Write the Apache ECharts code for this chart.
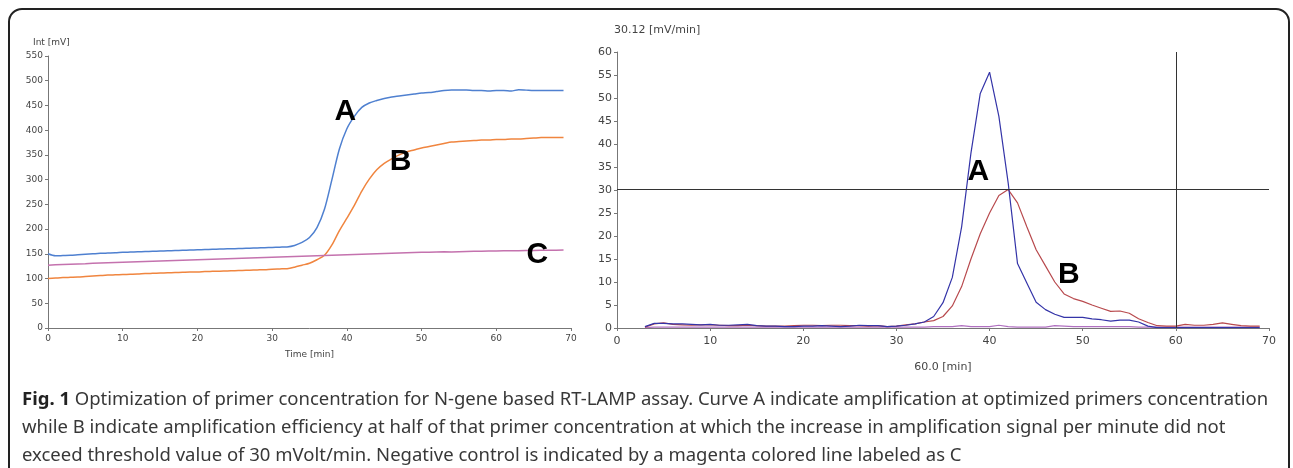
<!DOCTYPE html>
<html>
<head>
<meta charset="utf-8">
<script src="https://cdn.jsdelivr.net/npm/echarts@6/dist/echarts.min.js"></script>
<style>
  html, body { margin: 0; padding: 0; background: #fff; }
  .frame { position: absolute; left: 8px; top: 8px; width: 1282px; height: 490px;
           border: 2px solid #222; border-radius: 14px; box-sizing: border-box; }
  #chart { position: absolute; left: 0; top: 0; width: 1293px; height: 468px; }
  .caption { position: absolute; left: 22px; top: 384px; width: 1262px;
             font-family: "Noto Sans", sans-serif; font-size: 18.5px;
             line-height: 28px; color: #383838; }
  .caption b { color: #222; }
</style>
</head>
<body>
<div class="frame"></div>
<div id="chart"></div>
<div class="caption"><b>Fig. 1</b> Optimization of primer concentration for N-gene based RT-LAMP assay. Curve A indicate amplification at optimized primers concentration<br>while B indicate amplification efficiency at half of that primer concentration at which the increase in amplification signal per minute did not<br>exceed threshold value of 30 mVolt/min. Negative control is indicated by a magenta colored line labeled as C</div>
<script>
// left panel: intensity (mV) per minute 0..69
const minutesLeft = [];
for (let i = 0; i <= 69; i++) minutesLeft.push(i);
const intA = [150,146,146.5,147,148,149,150,151,151.5,152,153,153.5,154,154.5,155,155.5,156,156.5,157,157.5,
  158,158.5,159,159.5,160,160.5,161,161.5,162,162.5,163,163.5,164,167,173,183,203,240,300,362,
  403,428,446,455,460,464,467,469,471,473,475,476,478,480,481,481,481,480,480,479,
  480,480,479,482,481,480,480,480,480,480];
const intB = [100,101,102,102.5,103,104,105,106,107,107.5,108,108.5,109,110,110.5,111,111.5,112,112.5,113,
  113,114,114.5,115,115.5,116,116.5,117,117.5,118,119,119.5,120,123,127,131,138,147,168,197,
  222,248,277,301,320,333,342,350,356,360,364,367,370,373,376,377,378,379,380,380,
  381,381,382,382,383,384,385,385,385,385];
const intC = [127,128,128.5,129,129.5,130,131,131.5,132,132.5,133,133.5,134,134.5,135,135.5,136,136.5,137,137.5,
  138,138.5,139,139.5,140,140.5,141,141.5,142,142.5,143,143.5,144,144.5,145,145.5,146,146.5,147,147.5,
  148,148.5,149,149.5,150,150.5,151,151.5,152,152.5,153,153,153.5,154,153.5,154,154.5,155,155,155.5,
  155.5,156,156,156,156.5,156.5,157,157,157,157.5];

// right panel: derivative (mV/min) per minute 3..69
const minutesRight = [];
for (let i = 3; i <= 69; i++) minutesRight.push(i);
const derivA = [0.3,1.0,1.0,0.9,0.9,0.8,0.7,0.8,0.6,0.6,0.7,0.8,0.5,0.4,0.4,0.3,0.3,0.4,0.4,0.5,
  0.4,0.3,0.4,0.6,0.5,0.5,0.3,0.4,0.6,0.9,1.3,2.5,5.5,11,22,38,51,55.6,46,31.5,
  14,9.8,5.6,4,3,2.3,2.3,2.3,2.0,1.8,1.5,1.7,1.7,1.3,0.4,0.1,0.1,0.1,0.1,0.1,
  0.1,0.1,0.1,0.1,0.1,0.1,0.1];
const derivB = [0.2,0.9,1.1,0.8,0.7,0.6,0.7,0.7,0.6,0.5,0.5,0.6,0.5,0.4,0.4,0.4,0.5,0.6,0.6,0.5,
  0.6,0.6,0.5,0.5,0.4,0.5,0.3,0.4,0.7,0.9,1.3,1.6,2.5,4.8,9,15,20.5,25,28.8,30.1,
  27.2,22,17,13.5,10,7.4,6.4,5.8,5,4.3,3.6,3.7,3.2,2,1.2,0.5,0.4,0.4,0.8,0.6,
  0.6,0.8,1.1,0.8,0.5,0.4,0.4];
const derivC = [0.1,0.2,0.2,0.2,0.2,0.2,0.2,0.2,0.2,0.2,0.2,0.2,0.2,0.2,0.2,0.2,0.2,0.2,0.2,0.2,
  0.2,0.2,0.2,0.2,0.2,0.2,0.2,0.2,0.2,0.2,0.2,0.3,0.3,0.3,0.5,0.3,0.3,0.3,0.6,0.3,
  0.2,0.2,0.2,0.2,0.5,0.4,0.3,0.3,0.3,0.3,0.3,0.3,0.3,0.2,0.2,0.2,0.2,0.2,0.2,0.2,
  0.2,0.2,0.2,0.2,0.2,0.2,0.2];

const threshold = 30.12;
const cutoffTime = 60;

// curve letters, placed in data coordinates
const leftLabels = [['A', 39.8, 437], ['B', 47.2, 336], ['C', 65.5, 148]];
const rightLabels = [['A', 38.8, 34], ['B', 48.5, 11.6]];

const zip = (xs, ys) => ys.map((y, i) => [xs[i], y]);
const letterPoints = list => ({
  symbol: 'circle', symbolSize: 1,
  itemStyle: { color: 'rgba(0,0,0,0)' },
  label: { show: true, position: 'inside', fontFamily: 'Liberation Sans, Arial', fontWeight: 'bold',
           fontSize: 30, color: '#000', formatter: p => p.name },
  data: list.map(l => ({ name: l[0], coord: [l[1], l[2]] }))
});

const axisFont = { fontFamily: 'DejaVu Sans', color: '#444' };
const axisLineStyle = { lineStyle: { color: '#777' } };

const chart = echarts.init(document.getElementById('chart'));
const option = {
  animation: false,
  grid: [
    { left: 48, right: 722, top: 56, bottom: 140 },
    { left: 617, right: 24, top: 52, bottom: 140 }
  ],
  xAxis: [
    { gridIndex: 0, type: 'value', min: 0, max: 70, interval: 10,
      name: 'Time [min]', nameLocation: 'middle', nameGap: 22,
      nameTextStyle: Object.assign({ fontSize: 9 }, axisFont),
      axisLine: axisLineStyle, axisTick: Object.assign({ length: 3 }, axisLineStyle),
      axisLabel: Object.assign({ fontSize: 9, margin: 6 }, axisFont), splitLine: { show: false } },
    { gridIndex: 1, type: 'value', min: 0, max: 70, interval: 10,
      name: '60.0 [min]', nameLocation: 'middle', nameGap: 34,
      nameTextStyle: Object.assign({ fontSize: 11 }, axisFont),
      axisLine: axisLineStyle, axisTick: Object.assign({ length: 3 }, axisLineStyle),
      axisLabel: Object.assign({ fontSize: 11, margin: 8 }, axisFont), splitLine: { show: false } }
  ],
  yAxis: [
    { gridIndex: 0, type: 'value', min: 0, max: 550, interval: 50,
      name: 'Int [mV]', nameLocation: 'end', nameGap: 9,
      nameTextStyle: Object.assign({ fontSize: 9, align: 'left', padding: [0, 0, 0, -15] }, axisFont),
      axisLine: Object.assign({ show: true }, axisLineStyle), axisTick: Object.assign({ show: true, length: 3 }, axisLineStyle),
      axisLabel: Object.assign({ fontSize: 9, margin: 5 }, axisFont), splitLine: { show: false } },
    { gridIndex: 1, type: 'value', min: 0, max: 60, interval: 5,
      name: '30.12 [mV/min]', nameLocation: 'end', nameGap: 16,
      nameTextStyle: Object.assign({ fontSize: 11, align: 'left', padding: [0, 0, 0, -3] }, axisFont),
      axisLine: Object.assign({ show: true }, axisLineStyle), axisTick: Object.assign({ show: true, length: 3 }, axisLineStyle),
      axisLabel: Object.assign({ fontSize: 11, margin: 5 }, axisFont), splitLine: { show: false } }
  ],
  series: [
    { name: 'A', type: 'line', xAxisIndex: 0, yAxisIndex: 0, data: zip(minutesLeft, intA),
      showSymbol: false, smooth: 0.3, lineStyle: { color: '#4f80d0', width: 1.5 },
      markPoint: letterPoints(leftLabels) },
    { name: 'B', type: 'line', xAxisIndex: 0, yAxisIndex: 0, data: zip(minutesLeft, intB),
      showSymbol: false, smooth: 0.3, lineStyle: { color: '#f0853f', width: 1.5 } },
    { name: 'C', type: 'line', xAxisIndex: 0, yAxisIndex: 0, data: zip(minutesLeft, intC),
      showSymbol: false, lineStyle: { color: '#c472ae', width: 1.5 } },
    { name: 'C-rate', type: 'line', xAxisIndex: 1, yAxisIndex: 1, data: zip(minutesRight, derivC),
      showSymbol: false, lineStyle: { color: '#b070c0', width: 1.2 } },
    { name: 'B-rate', type: 'line', xAxisIndex: 1, yAxisIndex: 1, data: zip(minutesRight, derivB),
      showSymbol: false, lineStyle: { color: '#b84a4e', width: 1.2 },
      markLine: {
        silent: true, symbol: 'none', label: { show: false },
        lineStyle: { color: '#333', width: 1, type: 'solid' },
        data: [{ yAxis: threshold }, { xAxis: cutoffTime }]
      } },
    { name: 'A-rate', type: 'line', xAxisIndex: 1, yAxisIndex: 1, data: zip(minutesRight, derivA),
      showSymbol: false, lineStyle: { color: '#3434a8', width: 1.2 },
      markPoint: letterPoints(rightLabels) }
  ]
};
chart.setOption(option);
</script>
</body>
</html>
